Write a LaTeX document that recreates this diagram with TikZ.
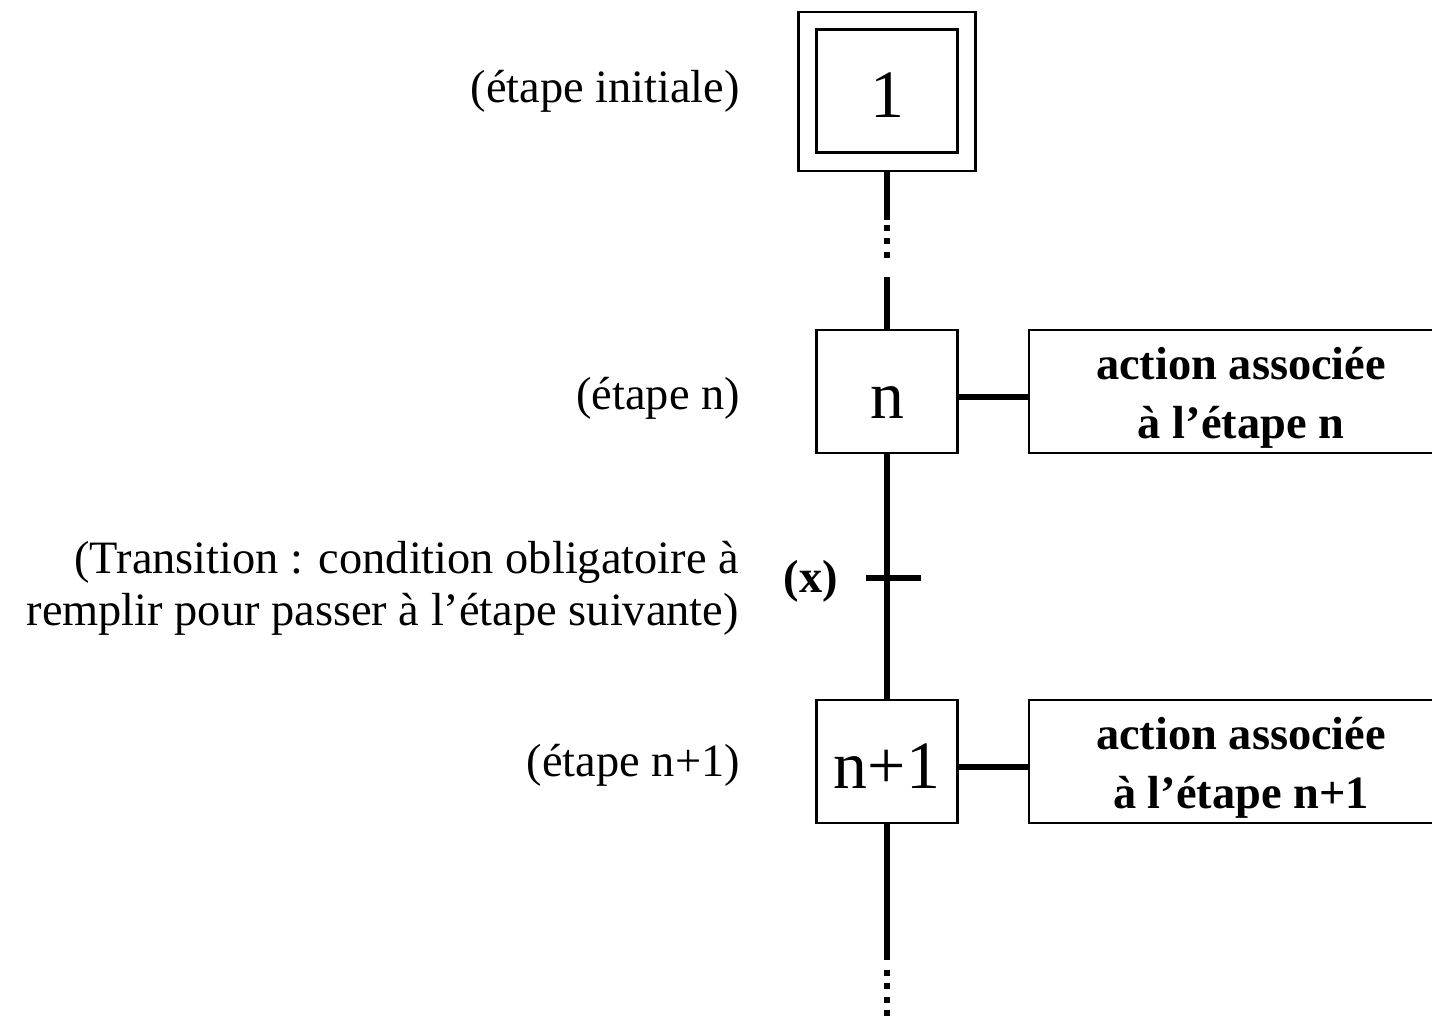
\documentclass[tikz,border=0pt]{standalone}
\usepackage{fontspec}
\setmainfont{Liberation Serif}

\begin{document}
\begin{tikzpicture}[x=0.02cm,y=-0.02cm,
        etape/.style={draw, line width=1.2pt, minimum width=2.82cm,
            minimum height=2.46cm, inner sep=0pt, text height=1.2cm,
            text depth=0.14cm, font=\fontsize{38.6}{40}\selectfont},
        action/.style={draw, line width=1.2pt, minimum width=8.48cm,
            minimum height=2.46cm, inner sep=0pt},
        actiontexte/.style={align=center,
            font=\fontsize{26.4}{33.5}\selectfont\bfseries},
        legende/.style={anchor=east, align=right,
            font=\fontsize{26.4}{29.5}\selectfont},
        liaison/.style={line width=3.4pt},
        pointille/.style={line width=3.4pt, dash pattern=on 0.12cm off 0.146cm}]
    \useasboundingbox (0,0) rectangle (1432,1021);

    % etapes
    \node[etape] (e1) at (887,91) {1};
    \node[draw, line width=1.2pt, minimum width=3.54cm, minimum height=3.18cm]
        (e1cadre) at (887,91.5) {};
    \node[etape] (en) at (887,391.5) {n};
    \node[etape] (enp) at (887,761.5) {n+1};

    % actions
    \node[action] (an) at (1241,391.5) {};
    \node[actiontexte] (tn) at ([yshift=-0.12cm]an.center)
        {action associée\\à l'étape n};
    \node[action] (anp) at (1241,761.5) {};
    \node[actiontexte] (tnp) at ([yshift=-0.12cm]anp.center)
        {action associée\\à l'étape n+1};

    % legendes
    \node[legende] (l1) at (746,91) {(étape initiale)};
    \node[legende] (ln) at (746,398) {(étape n)};
    \node[legende] (lt) at (745,588) {(Transition : condition obligatoire à\\
        remplir pour passer à l'étape suivante)};
    \node[legende] (lnp) at (746,765) {(étape n+1)};

    % liaisons
    \coordinate (c1) at (887,220);
    \coordinate (c2) at (887,225);
    \coordinate (c3) at (887,259);
    \coordinate (c4) at (887,277);
    \draw[liaison] (e1cadre.south) -- (c1);
    \draw[pointille] (c2) -- (c3);
    \draw[liaison] (c4) -- (en.north);
    \draw[liaison] (en.south) -- (enp.north);
    \coordinate (c5) at (887,960);
    \coordinate (c6) at (887,970);
    \coordinate (c7) at (887,1016);
    \draw[liaison] (enp.south) -- (c5);
    \draw[pointille] (c6) -- (c7);

    \draw[line width=3.2pt] ([yshift=-0.11cm]en.east) -- ([yshift=-0.11cm]an.west);
    \draw[line width=3.2pt] ([yshift=-0.11cm]enp.east) -- ([yshift=-0.11cm]anp.west);

    % transition
    \coordinate (tg) at (866,578);
    \coordinate (td) at (921,578);
    \draw[liaison] (tg) -- (td);
    \node[anchor=east, font=\fontsize{26.4}{30}\selectfont\bfseries] (cx) at (844,581) {(x)};
\end{tikzpicture}
\end{document}
